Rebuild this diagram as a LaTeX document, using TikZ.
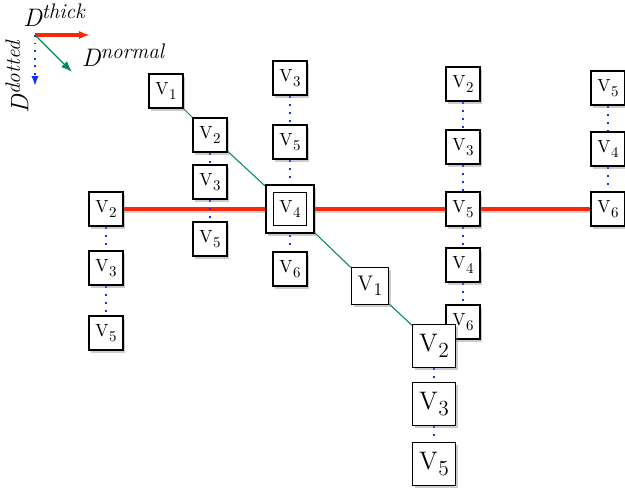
\documentclass[tikz,border=0pt]{standalone}
\usepackage{graphicx}
\usetikzlibrary{arrows.meta,shadows,backgrounds}

\definecolor{thickred}{RGB}{250,40,10}
\definecolor{normgreen}{RGB}{0,140,80}
\definecolor{dotblue}{RGB}{20,50,250}
\newcommand{\vsub}[1]{V\kern0.3pt\raisebox{-0.6ex}{\scalebox{0.85}{#1}}}

\begin{document}
\begin{tikzpicture}[x=0.02cm,y=-0.02cm,
  vbox/.style={draw,fill=white,line width=0.75pt,minimum size=0.68cm,inner sep=0pt,
    font=\normalsize,drop shadow={shadow xshift=1.2pt,shadow yshift=-1.6pt,opacity=0.4}},
  midbox/.style={vbox,minimum size=0.74cm,font=\large},
  bigbox/.style={vbox,minimum size=0.86cm,font=\Large},
  thickedge/.style={thickred,line width=2.3pt},
  normedge/.style={normgreen,line width=0.6pt},
  dotedge/.style={dotblue,line width=1.3pt,dash pattern=on 1.1pt off 3.6pt}
]
\useasboundingbox (0,0) rectangle (625,498);

% legend
\coordinate (o) at (35,35);
\coordinate (ot) at (90,35);
\coordinate (on) at (72,72);
\coordinate (od) at (35,86);
\draw [-{Latex[length=2.2mm]}, thickred, line width=1.8pt] (o) -- (ot);
\draw [-{Latex[length=2.2mm]}, normgreen, line width=0.8pt] (o) -- (on);
\draw [-{Latex[length=2mm]}, dotblue, line width=1.2pt, dash pattern=on 1.1pt off 3.2pt] (o) -- (od);
\node (lt) at (54,15) {\Large\itshape D\raisebox{0.75ex}{\large thick}};
\node (ln) at (123,55) {\Large\itshape D\raisebox{0.75ex}{\large normal}};
\node [rotate=90] (ld) at (17,77) {\Large\itshape D\raisebox{0.75ex}{\large dotted}};

% vertices
\node [vbox] (n1) at (166,91) {\vsub1};
\node [vbox] (a2) at (210,135) {\vsub2};
\node [vbox] (a3) at (210,182) {\vsub3};
\node [vbox] (a5) at (210,239) {\vsub5};

\node [vbox] (b2) at (106,209) {\vsub2};
\node [vbox] (b3) at (106,268) {\vsub3};
\node [vbox] (b5) at (106,333) {\vsub5};

\node [vbox] (c3) at (290,78) {\vsub3};
\node [vbox] (c5) at (290,142) {\vsub5};
\node [vbox,minimum size=0.96cm,line width=1.3pt] (c4o) at (290,209) {};
\node [draw,line width=1pt,minimum size=0.66cm,inner sep=0pt,font=\normalsize] (c4) at (290,209) {\vsub4};
\node [vbox] (c6) at (290,269) {\vsub6};

\node [midbox] (e1) at (370,286) {\vsub1};

\node [vbox] (f2) at (463,84) {\vsub2};
\node [vbox] (f3) at (463,147) {\vsub3};
\node [vbox] (f5) at (463,209) {\vsub5};
\node [vbox] (f4) at (463,265) {\vsub4};
\node [vbox] (f6) at (463,322) {\vsub6};

\node [vbox] (g5) at (608,88) {\vsub5};
\node [vbox] (g4) at (608,149) {\vsub4};
\node [vbox] (g6) at (608,209) {\vsub6};

\node [bigbox] (h2) at (434,346) {\vsub2};
\node [bigbox] (h3) at (434,404) {\vsub3};
\node [bigbox] (h5) at (434,464) {\vsub5};

% connectors
\begin{pgfonlayer}{background}
\draw [gray!60, line width=2.3pt, opacity=0.6, transform canvas={yshift=-1.4pt}] (b2) -- (c4) -- (f5) -- (g6);
\draw [thickedge] (b2) -- (c4) -- (f5) -- (g6);
\draw [normedge] (n1) -- (a2) -- (c4) -- (e1) -- (h2);
\draw [dotedge] (a2) -- (a3) -- (a5);
\draw [dotedge] (b2) -- (b3) -- (b5);
\draw [dotedge] (c3) -- (c5) -- (c4) -- (c6);
\draw [dotedge] (f2) -- (f3) -- (f5) -- (f4) -- (f6);
\draw [dotedge] (g5) -- (g4) -- (g6);
\draw [dotedge] (h2) -- (h3) -- (h5);
\end{pgfonlayer}
\end{tikzpicture}
\end{document}
